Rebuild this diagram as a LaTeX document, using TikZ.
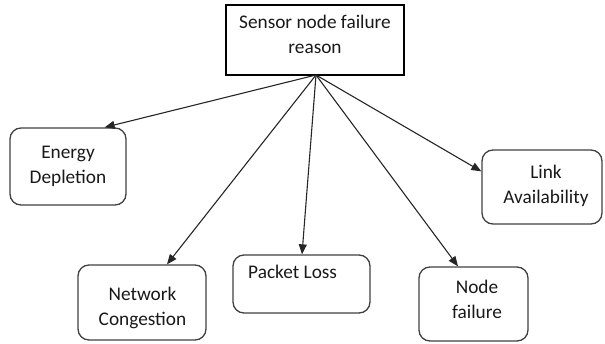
\documentclass[tikz,border=0pt]{standalone}
\usepackage{fontspec}
\setmainfont{Carlito}
\usetikzlibrary{arrows.meta,calc}
\begin{document}
\begin{tikzpicture}[x=1pt,y=-1pt,
  rootbox/.style={draw=black,line width=1.3pt,minimum width=178pt,minimum height=70pt,inner sep=0pt},
  leafbox/.style={draw=black!75,line width=1.3pt,rounded corners=11pt,inner sep=0pt},
  lbl/.style={font=\fontsize{19.3}{24.5}\selectfont,align=center,text=black!90,inner sep=0pt},
  link/.style={line width=1.1pt,draw=black!85,-{Triangle[length=10pt,width=8pt]}}]
\useasboundingbox (0,0) rectangle (605,343);
% root box and its caption (base = last line)
\node[rootbox] (root) at (315,40) {};
\node[lbl,anchor=base] (rootl) at (315,53) {Sensor node failure\\reason};
\coordinate (src) at (316,75);
% leaf boxes
\node[leafbox,minimum width=116pt,minimum height=77pt] (en) at (68,166.5) {};
\node[lbl,anchor=base] (enl) at (68,183) {Energy\\Depletion};
\node[leafbox,minimum width=120pt,minimum height=74pt] (lk) at (542,187) {};
\node[lbl,anchor=base] (lkl) at (546,203) {Link\\Availability};
\node[leafbox,minimum width=128pt,minimum height=75pt] (nc) at (142,302.5) {};
\node[lbl,anchor=base] (ncl) at (142.5,325) {Network\\Congestion};
\node[leafbox,minimum width=137pt,minimum height=58pt] (pl) at (301.5,284) {};
\node[lbl,anchor=base west] (pll) at (248,278) {Packet Loss};
\node[leafbox,minimum width=109pt,minimum height=74pt] (nf) at (473.5,304) {};
\node[lbl,anchor=base] (nfl) at (477,318) {Node\\failure};
% connectors from the root
\draw[link] (src) -- ($(en.north east)+(-22,0)$);
\draw[link] (src) -- ($(lk.north west)+(0,22)$);
\draw[link] (src) -- ($(nc.north)+(25,0)$);
\draw[link] (src) -- ($(pl.north)+(0.5,0)$);
\draw[link] (src) -- ($(nf.north)+(-15.5,0)$);
\end{tikzpicture}
\end{document}
